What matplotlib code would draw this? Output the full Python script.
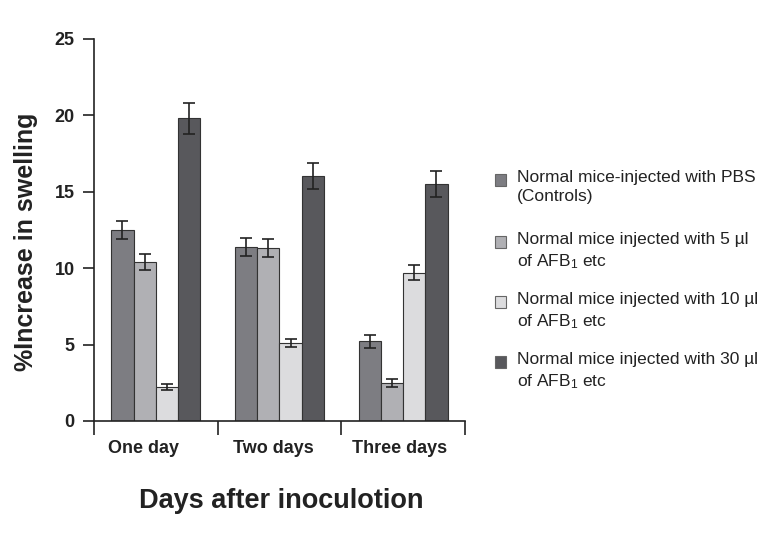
import numpy as np
import matplotlib
matplotlib.use('Agg')
import matplotlib.pyplot as plt
from matplotlib.patches import Rectangle

plt.rcParams['font.family'] = ['Liberation Sans', 'DejaVu Sans']
plt.rcParams['mathtext.fontset'] = 'custom'
plt.rcParams['mathtext.rm'] = 'Liberation Sans'
plt.rcParams['mathtext.it'] = 'Liberation Sans'

days = ['One day', 'Two days', 'Three days']
labels = ['Normal mice-injected with PBS\n(Controls)',
          'Normal mice injected with 5 µl\nof AFB$_1$ etc',
          'Normal mice injected with 10 µl\nof AFB$_1$ etc',
          'Normal mice injected with 30 µl\nof AFB$_1$ etc']
pbs = [12.5, 11.4, 5.2]
afb5 = [10.4, 11.3, 2.5]
afb10 = [2.2, 5.1, 9.7]
afb30 = [19.8, 16.0, 15.5]
pbs_err = [0.6, 0.6, 0.4]
afb5_err = [0.55, 0.6, 0.25]
afb10_err = [0.2, 0.25, 0.5]
afb30_err = [1.0, 0.85, 0.85]

series = [pbs, afb5, afb10, afb30]
errs = [pbs_err, afb5_err, afb10_err, afb30_err]
colors = ['#7d7d82', '#b0b0b4', '#dcdcde', '#58585c']

W, H = 771, 539
fig = plt.figure(figsize=(7.71, 5.39), dpi=100)
ax = fig.add_axes([0.122, 0.219, 0.481, 0.709])

x = np.arange(len(days)) + 0.5
w = 0.18
for i in range(4):
    ax.bar(x + (i - 1.5) * w, series[i], w, yerr=errs[i], color=colors[i],
           edgecolor='#333333', linewidth=0.8,
           error_kw=dict(ecolor='#222222', elinewidth=1.2, capsize=4, capthick=1.2))

ax.set_xlim(0, 3)
ax.set_ylim(0, 25)
ax.set_yticks([0, 5, 10, 15, 20, 25])
ax.set_xticks([0, 1, 2, 3])
ax.set_xticklabels([])
# labels sit a little left of the group centres in the original
ax.set_xticks(x - np.array([0.1, 0.05, 0.03]), minor=True)
ax.set_xticklabels(days, minor=True)
ax.tick_params(axis='x', which='major', direction='out', length=10, width=1.2, color='#222222')
ax.tick_params(axis='x', which='minor', length=0, pad=14, labelsize=13)
ax.tick_params(axis='y', direction='out', length=8, width=1.2, color='#222222', labelsize=13, pad=6)
for t in ax.get_xticklabels(minor=True) + ax.get_yticklabels():
    t.set_fontweight('bold')
    t.set_color('#222222')

ax.spines['top'].set_visible(False)
ax.spines['right'].set_visible(False)
for s in ['left', 'bottom']:
    ax.spines[s].set_linewidth(1.2)
    ax.spines[s].set_color('#222222')

ax.set_ylabel('%Increase in swelling', fontsize=18, fontweight='bold', color='#222222')
ax.yaxis.set_label_coords(-0.152, 0.47)
fig.text(0.365, 0.058, 'Days after inoculotion', fontsize=19.5, fontweight='bold',
         color='#222222', ha='center')

# legend drawn by hand: square sits beside the first line of each entry
tops = [170, 232, 292, 352]
for i in range(4):
    fig.text(517 / W, 1 - tops[i] / H, labels[i], fontsize=12.5, color='#222222',
             va='top', ha='left', linespacing=1.35)
    fig.add_artist(Rectangle((495 / W, 1 - (tops[i] + 16) / H), 11 / W, 12 / H,
                             transform=fig.transFigure, facecolor=colors[i],
                             edgecolor='#666666', linewidth=0.8))

fig.savefig('out.png', dpi=100)
